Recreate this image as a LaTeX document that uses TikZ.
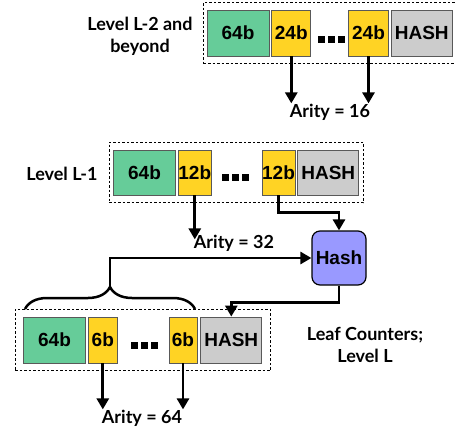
\documentclass[tikz,border=0pt]{standalone}
\usepackage{fontspec}
\setmainfont{Lato}
\newfontfamily\cellfont{Liberation Sans}
\usetikzlibrary{positioning,fit,arrows.meta,decorations.pathreplacing}
\definecolor{ctrgreen}{HTML}{66CC99}
\definecolor{ctryellow}{HTML}{FFD324}
\definecolor{hashgray}{HTML}{CCCCCC}
\definecolor{hashblue}{HTML}{9999FF}
\tikzset{cell/.style={rectangle,draw=black!65,line width=0.8pt,inner sep=0pt,
minimum height=46pt, font=\cellfont\bfseries\fontsize{19}{19}\selectfont},
major/.style={cell,fill=ctrgreen,minimum width=62pt},
minor/.style={cell,fill=ctryellow},
mac/.style={cell,fill=hashgray,minimum width=61pt},
group/.style={rectangle,draw,dashed,dash pattern=on 2.5pt off 2pt,line width=1pt,inner ysep=7.5pt},
hashunit/.style={rectangle,rounded corners=8pt,draw,line width=1.2pt,fill=hashblue,
minimum size=54pt,inner sep=0pt,font=\cellfont\bfseries\fontsize{19}{19}\selectfont},
lbl/.style={font=\bfseries\fontsize{18}{22}\selectfont,align=center,inner sep=1pt},
arr/.style={-{Triangle[width=12pt,length=11pt]},line width=2.7pt},
dot/.style={fill=black}}

\begin{document}
\begin{tikzpicture}[x=1pt,y=-1pt]
  \useasboundingbox (0,0) rectangle (455,431);

  \node (g1) [major] at (238,33) {64b};
  \node (c1a) [minor,minimum width=39pt,right=2pt of g1] {24b};
  \node (c1b) [minor,minimum width=40pt] at (368.5,33) {24b};
  \node (h1) [mac,right=2pt of c1b] {HASH};
  \node (f1) [group,inner xsep=3pt,fit=(g1)(h1)] {};
  \foreach \i in {0,1,2} \fill[dot] (318+\i*10,36) rectangle ++(7,7);
  \node (l1) [lbl] at (140,36) {Level L-2 and\\beyond};
  \node (ar16) [lbl] at (330,112) {Arity = 16};

  \node (g2) [major,minimum height=45pt] at (144.5,172.5) {64b};
  \node (c2a) [minor,minimum height=45pt,minimum width=33pt,right=2pt of g2] {12b};
  \node (c2b) [minor,minimum height=45pt,minimum width=33pt] at (278.5,172.5) {12b};
  \node (h2) [mac,minimum height=45pt,right=2pt of c2b] {HASH};
  \node (f2) [group,inner xsep=4pt,fit=(g2)(h2)] {};
  \foreach \i in {0,1,2} \fill[dot] (222+\i*10,174) rectangle ++(7,7);
  \node (l2) [lbl] at (62,174) {Level L-1};
  \node (ar32) [lbl] at (234,243) {Arity = 32};

  \node (hash) [hashunit] at (339,258) {Hash};

  \node (g3) [major] at (54.5,340) {64b};
  \node (c3a) [minor,minimum width=29pt,right=2pt of g3] {6b};
  \node (c3b) [minor,minimum width=28pt] at (183,340) {6b};
  \node (h3) [mac,right=3pt of c3b] {HASH};
  \node (f3) [group,inner xsep=8pt,fit=(g3)(h3)] {};
  \foreach \i in {0,1,2} \fill[dot] (131+\i*10,342) rectangle ++(7,7);
  \node (l3) [lbl] at (365,345) {Leaf Counters;\\Level L};
  \node (ar64) [lbl] at (142,418) {Arity = 64};

  \coordinate (tip) at (110,287);
  \draw [line width=2.5pt,decorate,decoration={brace,amplitude=22pt}] (25,309) -- (195,309);

  \draw [arr] (c1a.south) -- ++(0,47);
  \draw [arr] (c1b.south) -- ++(0,47);
  \draw [arr] (c2a.south) -- ++(0,44);
  \draw [arr] (c2b.south) -- ++(0,17) -| (hash.north);
  \draw [arr] (tip) |- (hash.west);
  \draw [arr] (hash.south) -- ++(0,17) -| (h3.north);
  \draw [arr] (c3a.south) -- ++(0,46);
  \draw [arr] (c3b.south) -- ++(0,46);
\end{tikzpicture}
\end{document}
